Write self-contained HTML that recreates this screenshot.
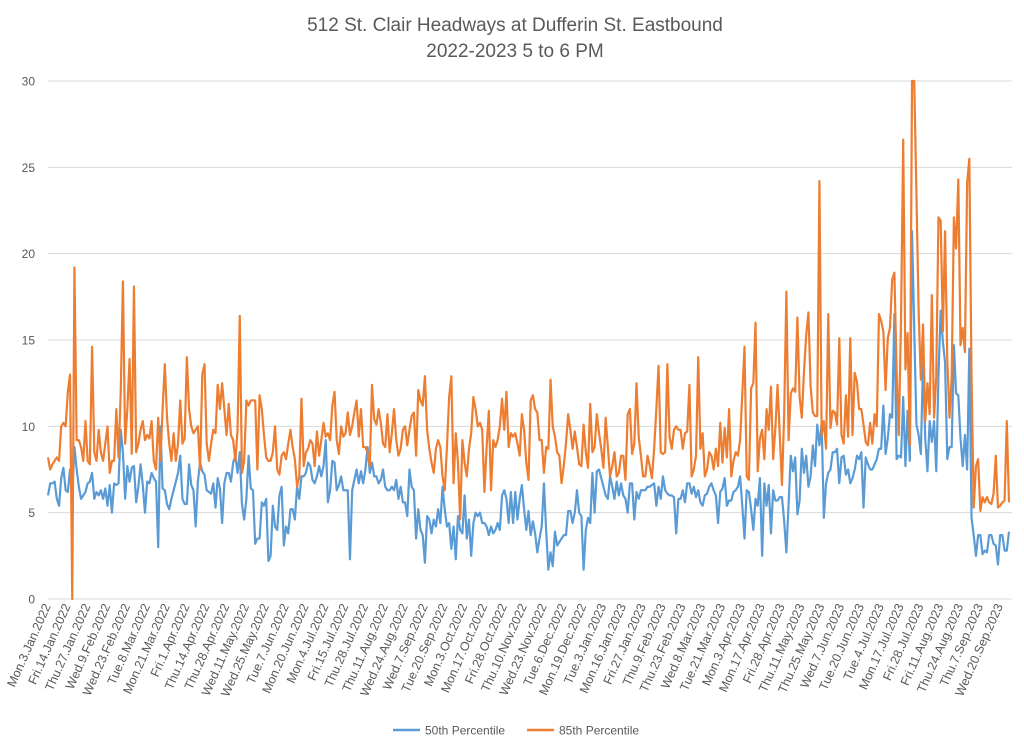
<!DOCTYPE html>
<html><head><meta charset="utf-8">
<style>
html,body{margin:0;padding:0;background:#fff;}
svg{display:block;font-family:"Liberation Sans",sans-serif;}
</style></head>
<body>
<svg id="chart" width="1024" height="746" viewBox="0 0 1024 746" xmlns="http://www.w3.org/2000/svg">
<rect x="0" y="0" width="1024" height="746" fill="#fff"/>
<text x="515" y="31" text-anchor="middle" font-size="19" fill="#595959">512 St. Clair Headways at Dufferin St. Eastbound</text>
<text x="515" y="57" text-anchor="middle" font-size="19" fill="#595959">2022-2023 5 to 6 PM</text>
<g id="grid"></g>
<g id="yaxis"></g>
<g id="xaxis"></g>
<g id="series"></g>
<g>
<line x1="393" y1="730" x2="420" y2="730" stroke="#5b9bd5" stroke-width="2.5"/>
<text x="425" y="734.5" font-size="12" fill="#595959">50th Percentile</text>
<line x1="527" y1="730" x2="554" y2="730" stroke="#ed7d31" stroke-width="2.5"/>
<text x="559" y="734.5" font-size="12" fill="#595959">85th Percentile</text>
</g>
</svg>
<script>
var tickLabels = ["Mon.3.Jan.2022","Fri.14.Jan.2022","Thu.27.Jan.2022","Wed.9.Feb.2022","Wed.23.Feb.2022","Tue.8.Mar.2022","Mon.21.Mar.2022","Fri.1.Apr.2022","Thu.14.Apr.2022","Thu.28.Apr.2022","Wed.11.May.2022","Wed.25.May.2022","Tue.7.Jun.2022","Mon.20.Jun.2022","Mon.4.Jul.2022","Fri.15.Jul.2022","Thu.28.Jul.2022","Thu.11.Aug.2022","Wed.24.Aug.2022","Wed.7.Sep.2022","Tue.20.Sep.2022","Mon.3.Oct.2022","Mon.17.Oct.2022","Fri.28.Oct.2022","Thu.10.Nov.2022","Wed.23.Nov.2022","Tue.6.Dec.2022","Mon.19.Dec.2022","Tue.3.Jan.2023","Mon.16.Jan.2023","Fri.27.Jan.2023","Thu.9.Feb.2023","Thu.23.Feb.2023","Wed.8.Mar.2023","Tue.21.Mar.2023","Mon.3.Apr.2023","Mon.17.Apr.2023","Fri.28.Apr.2023","Thu.11.May.2023","Thu.25.May.2023","Wed.7.Jun.2023","Tue.20.Jun.2023","Tue.4.Jul.2023","Mon.17.Jul.2023","Fri.28.Jul.2023","Fri.11.Aug.2023","Thu.24.Aug.2023","Thu.7.Sep.2023","Wed.20.Sep.2023"];
var yTicks = [0,5,10,15,20,25,30];
var p50 = [6,6.7,6.7,6.8,5.8,5.4,7,7.6,6.3,6.2,7.5,6.2,8.8,7.5,6.5,5.8,6,6.2,6.7,6.8,7.3,5.8,6.2,6,6.3,5.8,6.4,5.4,6.6,5,6.7,6.6,6.7,9.8,8.5,5.8,7.7,6.8,7.6,7.7,5.6,6.5,7.8,6.6,5,6.8,6.7,7.3,7,6.8,3,10,6.4,6.3,5.5,5.2,5.8,6.3,6.8,7.3,8.3,5.8,5.5,5.5,7.8,6.6,6.3,4.2,6.8,7.9,7.4,7.2,6.3,6.2,6.1,6.7,5.3,7,6.4,4.4,6.7,7.3,7.3,6.8,7.9,8.3,7.3,8.5,5.5,4.6,5.8,8.3,6.4,6.3,3.2,3.5,3.5,5.6,5.4,5.8,2.2,
2.5,5.4,4.2,4,6,6.5,3.1,4.2,3.8,5.2,5.2,4.6,6.5,5.8,7.1,7.1,7.3,7.9,7.7,6.9,6.7,7.1,7.7,7.1,7.7,9.2,5.6,6.3,8,7.9,6.3,6.6,7.1,6.3,6.3,6.3,2.3,6.3,6.9,7.5,6.7,7.4,6.7,7.5,8.8,7.3,7.9,7.1,7.1,6.7,6.9,7.5,6.5,6.3,6.3,6.5,6.3,6.9,5.8,6.5,5.6,5.6,4.8,7.5,6.5,6.3,3.5,5.2,4,3.7,2.1,4.8,4.6,3.8,4.6,4.2,5.2,4.4,6.5,5.2,4.2,4.4,2.9,4.2,2.3,4.8,4,3.8,6,3.5,4.6,2.5,4.4,5,4.8,5,4.4,4.4,4.2,3.7,4.2,3.8,4,4.4,4,6,6.3,5.8,4.4,6.2,
4.4,6.2,4.6,5.8,6.6,5.2,4,5.1,3.7,4.5,3.8,2.7,3.5,4.2,6.7,4,1.7,2.7,1.9,3.9,3.1,3.3,3.5,3.7,3.7,5.1,5.1,4.4,5,6.3,5,4.8,1.7,4,4.7,4.4,7.3,5,7.4,7.5,7,6.5,6,5.8,7.1,6.5,5.8,6.8,6,6.7,6,5.8,5,6.7,6.7,4.6,6.2,5.8,6.3,6.3,6.3,6.5,6.5,6.6,6.7,5.4,6.5,5.8,7.1,6.3,6.1,6,6,5.9,3.8,5.8,5.8,6.3,5.6,6.7,6.7,6.1,6.5,5.9,6.3,5.6,5.4,6,6.1,6.5,6.7,6.3,6,4.4,6.2,6.4,7,5.4,5.7,5.7,6.2,6.3,6.5,7.1,5.4,3.5,6.3,6.2,5.2,4,5.8,5.4,
7,2.5,6.7,5.4,6.6,3.8,6.3,5.7,5.7,5.9,5.9,4.5,2.7,5.5,8.3,7.4,8.2,4.9,5.7,8.7,7.3,8.3,6.5,7.1,8.9,7.7,10.1,8.9,10.2,4.7,6.7,7.3,7.5,8.5,8.5,8.7,6.7,8.2,8.3,7.2,7.5,6.7,7,7.5,8.3,8.1,8.5,5.3,8.2,7.8,7.5,7.5,7.8,8.1,8.7,8.7,11.2,8.4,9.3,10.7,10.5,16.5,8.1,8.3,8.2,11.7,7.7,10.9,8,21.3,15.7,10.1,9.5,8.4,13.7,9.3,7.4,10.3,9.1,10.3,7.4,12.9,16.7,14.9,13.7,8.1,8.8,8.8,14.7,11.9,11.8,9.3,7.7,9.5,7.5,14.5,4.7,3.7,2.5,3.7,3.7,2.6,2.8,2.7,3.7,3.7,3.2,3.1,2,3.7,3.7,2.8,2.8,3.9];
var p85 = [8.2,7.5,7.8,8,8.2,8,10,10.2,10,12,13,0,19.2,9.2,9.2,8.8,8,10.3,8,7.8,14.6,8.5,8,9.8,8.5,8,9,10,7.3,8,8,11,8.2,12,18.4,9,11,13.9,8.4,18.1,8.5,9,9.8,10.3,9.2,9.5,9.3,10.3,8,7.5,10.5,8,11,13.6,10.5,9,8,9.6,8,9,11.5,9,9.3,14,11,10,9.6,9.8,10,7.5,13,13.6,9,8,9,9.8,9.6,12.4,11,12.5,11,9.5,11.3,9.5,9.2,8,9.8,16.4,7.3,8,11.5,11.2,11.5,11.5,11.5,7.5,11.8,11,9.5,8.2,8,
8,8.5,10,7.5,7.2,
8.3,8.5,8.1,9,9.8,8.8,8.1,6.5,7.1,11.6,7.7,8.5,8.7,9.2,9,7.7,9.7,8.3,9.2,10.2,9.4,9.6,9.2,11.2,12,9.2,8.4,10,9.4,9.6,10.8,9.5,10,10.8,11.5,9.4,11,8.8,8.8,8.5,7.7,12.4,10.4,10.1,11,10.2,9,8.8,10.7,8.5,9.6,11,9.2,8.3,8.7,9.8,10,8.9,9.8,10.6,10.8,8.3,12.1,11.5,11.2,12.9,9.8,8.7,7.9,7.3,8.7,9.2,8.8,7.1,6.3,8.8,11.7,12.9,6.7,9.6,7.9,4.6,9.2,7.9,7.1,8.7,9.6,11.7,11,10,10.2,9.8,6.2,8.8,10.9,6.3,9.2,8.8,9.2,10,11.6,9.8,12,8.8,9.6,9.4,9.6,9,8.3,
10.7,9.8,7.9,6.9,11.5,11.8,11,10.8,9.2,9.2,7.3,8.8,8.7,12.7,10,9.4,8.5,8.3,6.7,7.7,9,10.7,9.8,8.7,9.7,8.8,7.8,7.7,10.1,8.5,7.6,11.3,8.5,8.8,10.7,9.6,8.7,7.6,10.5,8.8,7.1,7.7,8.5,7.1,7.3,8.3,8.3,6.9,10.7,11,8.4,9,12.5,9.4,8.3,7.1,7.1,8.3,7.7,7,8.7,11,13.5,8.5,8.4,8.5,13.6,9.4,8.7,9.8,10,9.8,9.8,8.7,9.6,9.7,12.4,7.1,7.5,8.3,14,8.7,9.6,7.1,7.5,8.5,8.3,7.5,8.7,7.7,10.2,7.9,9.9,8.2,11,7.1,8,8.5,8.3,9.2,11.9,14.6,7.1,6.9,12.2,12.5,16,
7.4,9.3,9.8,8.1,11,9.8,12.3,8.1,9.9,12.4,9.5,6.6,10.7,17.8,9.2,11.9,12.2,12,16.3,11.7,10.5,13.2,15.3,16.6,12.3,10.8,10.6,10.6,24.2,9.5,10.3,8.7,16.5,9.9,10.9,10.8,10.1,15.1,9.5,9,11.8,9.4,15.1,9.5,13.1,12.6,11,11,10.1,9.1,8.9,10.2,9,10.7,10,16.5,16.1,15.5,12.1,15.1,15.7,18.5,18.9,13.3,9.5,16,26.6,13.3,15.4,8.9,30,30,23.5,16.7,12.7,15.9,10.3,12.5,10.7,17.6,10.5,12.9,22.1,21.9,15.5,21.3,13.9,10.5,12.9,22.1,20.3,24.3,14.7,15.7,14.3,24.1,25.5,12.9,5.3,7.7,8.1,5.1,5.9,5.6,5.9,5.6,5.5,6.1,8.3,5.3,5.4,5.6,5.7,10.3,5.6];

var NS = "http://www.w3.org/2000/svg";
var X0 = 48, X1 = 1009, Y0 = 599, Y1 = 81, YMAX = 30;
var N = Math.max(p50.length, p85.length);
function xs(i){ return X0 + (X1 - X0) * i / (N - 1); }
function ys(v){ return Y0 - (Y0 - Y1) * v / YMAX; }
function mk(tag, attrs){ var e = document.createElementNS(NS, tag); for (var k in attrs) e.setAttribute(k, attrs[k]); return e; }

var grid = document.getElementById('grid');
var yaxis = document.getElementById('yaxis');
yTicks.forEach(function(t){
  var ln = mk('line', {x1: X0, x2: 1012, y1: ys(t), y2: ys(t), stroke: '#d9d9d9', 'stroke-width': 1});
  
  
  grid.appendChild(ln);
  var tx = mk('text', {x: 35, y: ys(t) + 4.5, 'text-anchor': 'end', 'font-size': 12, fill: '#595959'});
  tx.textContent = t;
  
  
  yaxis.appendChild(tx);
});

var xaxis = document.getElementById('xaxis');
tickLabels.forEach(function(lab, k){
  var x = xs(k * 9);
  var tx = mk('text', {x: 0, y: 0, 'text-anchor': 'end', 'font-size': 12.5, fill: '#595959', transform: 'translate(' + (x + 3) + ',606) rotate(-66)'});
  tx.textContent = lab;
  
  
  xaxis.appendChild(tx);
});

var series = document.getElementById('series');
function drawLine(arr, color, name){
  var d = '';
  for (var i = 0; i < arr.length; i++) d += (i ? 'L' : 'M') + xs(i).toFixed(2) + ' ' + ys(Math.min(arr[i], YMAX)).toFixed(2);
  var p = mk('path', {d: d, fill: 'none', stroke: color, 'stroke-width': 2.2, 'stroke-linejoin': 'round'});
  
  
  series.appendChild(p);
}
drawLine(p50, '#5b9bd5', 'series-50th-percentile');
drawLine(p85, '#ed7d31', 'series-85th-percentile');
</script>
</body></html>
